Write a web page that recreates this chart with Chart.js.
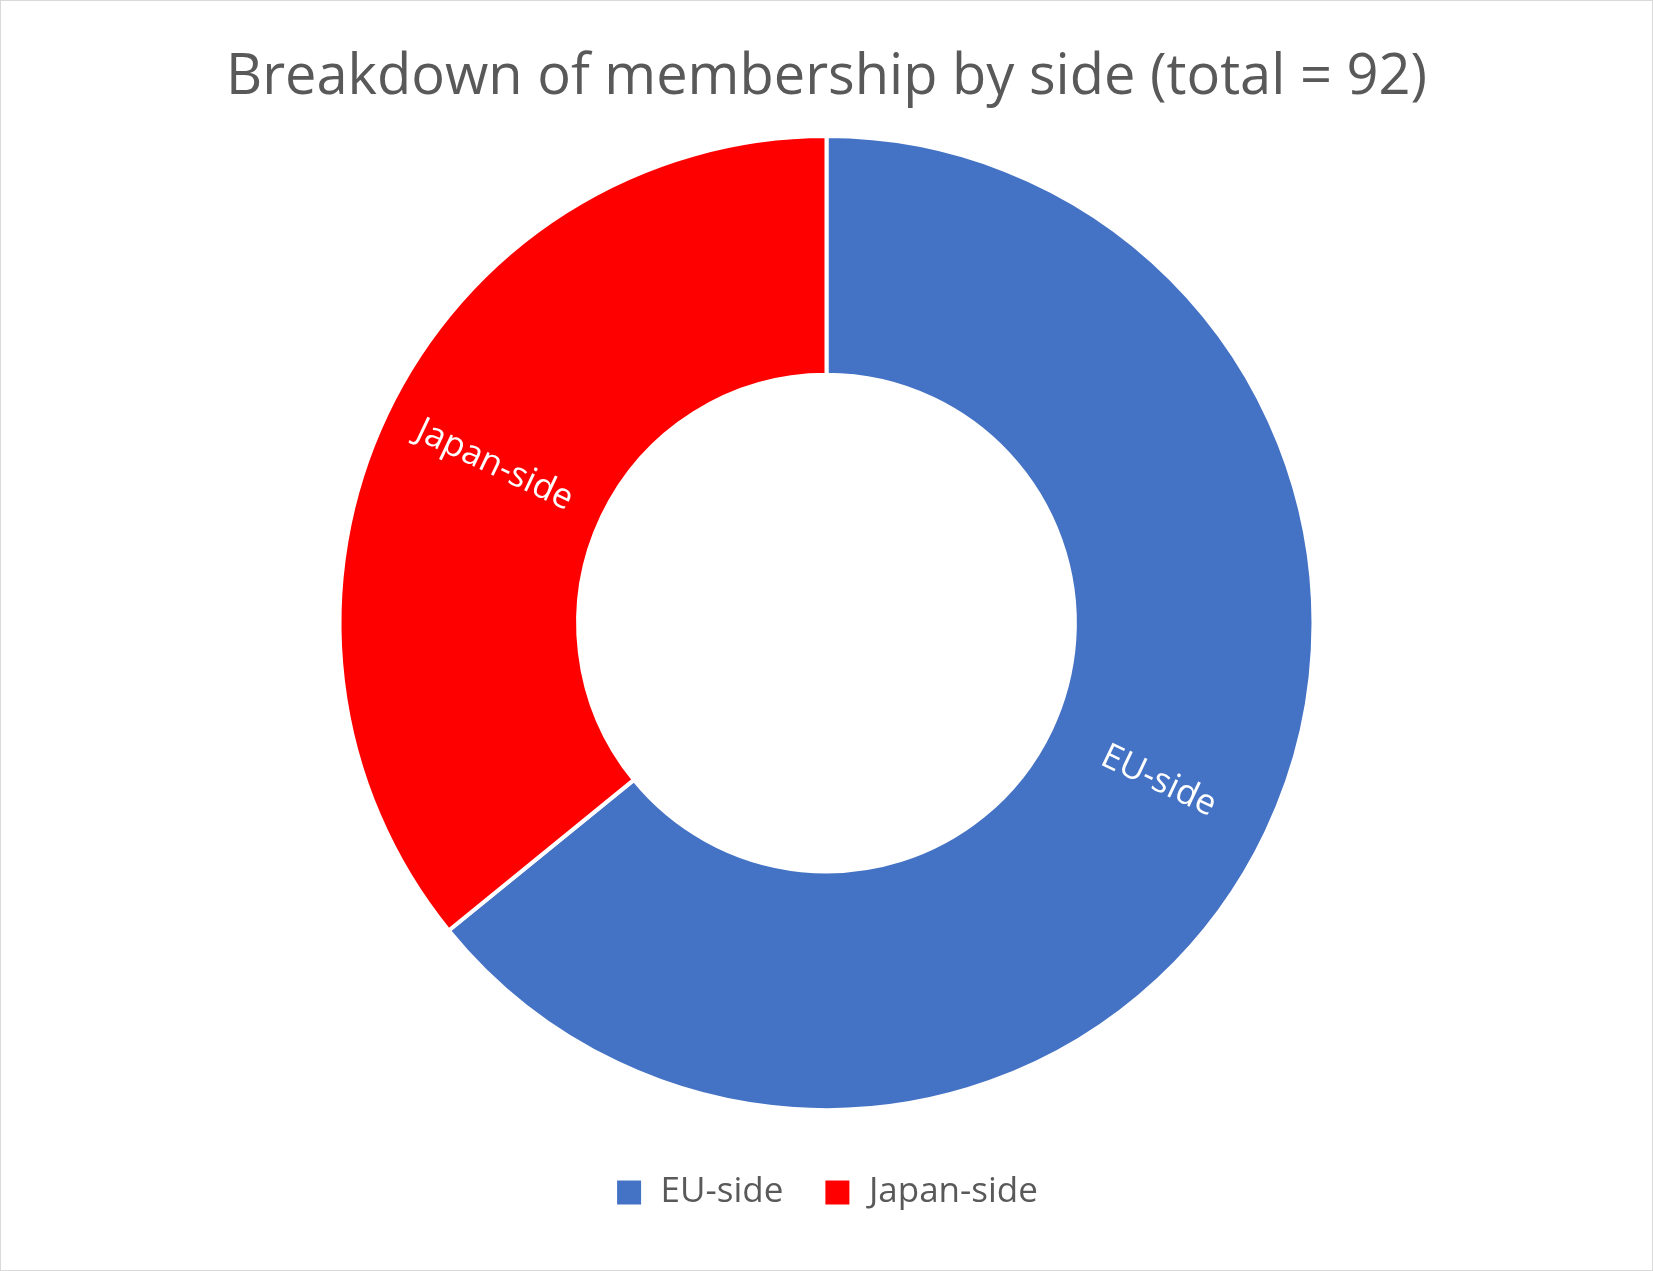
<!DOCTYPE html>
<html>
<head>
<meta charset="utf-8">
<title>Breakdown of membership by side</title>
<script src="https://cdn.jsdelivr.net/npm/chart.js@4.4.1/dist/chart.umd.min.js"></script>
<style>
    html, body { margin: 0; padding: 0; background: #fff; }
    #wrap { width: 1653px; height: 1271px; }
</style>
</head>
<body>
<div id="wrap"><canvas id="sideChart"></canvas></div>
<script>
const categories = ['EU-side', 'Japan-side'];
const members = [59, 33];
const sliceColors = ['#4472C4', '#FF0000'];
const chartTitle = 'Breakdown of membership by side (total = 92)';

// white page + thin grey frame like the Excel chart area
const frame = {
    id: 'frame',
    beforeDraw(chart) {
        const ctx = chart.ctx;
        ctx.save();
        ctx.fillStyle = '#fff';
        ctx.fillRect(0, 0, chart.width, chart.height);
        ctx.strokeStyle = '#D9D9D9';
        ctx.lineWidth = 1;
        ctx.strokeRect(0.5, 0.5, chart.width - 1, chart.height - 1);
        ctx.restore();
    }
};

// category names written inside each slice, turned along the radius
const sliceLabels = {
    id: 'sliceLabels',
    afterDatasetsDraw(chart) {
        const ctx = chart.ctx;
        const meta = chart.getDatasetMeta(0);
        meta.data.forEach((arc, i) => {
            const p = arc.getProps(['x', 'y', 'startAngle', 'endAngle', 'innerRadius', 'outerRadius']);
            const mid = (p.startAngle + p.endAngle) / 2;
            const r = (p.innerRadius + p.outerRadius) / 2;
            const x = p.x + Math.cos(mid) * r;
            const y = p.y + Math.sin(mid) * r;
            let rot = mid;
            if (Math.cos(mid) < 0) rot += Math.PI;
            ctx.save();
            ctx.translate(x, y);
            ctx.rotate(rot);
            ctx.fillStyle = '#fff';
            ctx.font = '35px "Open Sans"';
            ctx.textAlign = 'center';
            ctx.textBaseline = 'middle';
            ctx.fillText(chart.data.labels[i], 0, 0);
            ctx.restore();
        });
    }
};

const ctx = document.getElementById('sideChart').getContext('2d');
const chart = new Chart(ctx, {
    type: 'doughnut',
    data: {
        labels: categories,
        datasets: [{
            data: members,
            backgroundColor: sliceColors,
            borderColor: '#fff',
            borderWidth: 4
        }]
    },
    options: {
        responsive: true,
        maintainAspectRatio: false,
        animation: false,
        cutout: '51%',
        radius: 487,
        layout: { padding: { top: 33, bottom: 51 } },
        plugins: {
            title: {
                display: true,
                text: chartTitle,
                color: '#595959',
                font: { family: '"Open Sans"', size: 56, weight: 'normal' },
                padding: { top: 11, bottom: 0 }
            },
            legend: {
                position: 'bottom',
                labels: {
                    color: '#595959',
                    font: { family: '"Open Sans"', size: 35 },
                    boxWidth: 28,
                    boxHeight: 28,
                    padding: 40
                }
            },
            tooltip: { enabled: false }
        }
    },
    plugins: [frame, sliceLabels]
});
</script>
</body>
</html>
